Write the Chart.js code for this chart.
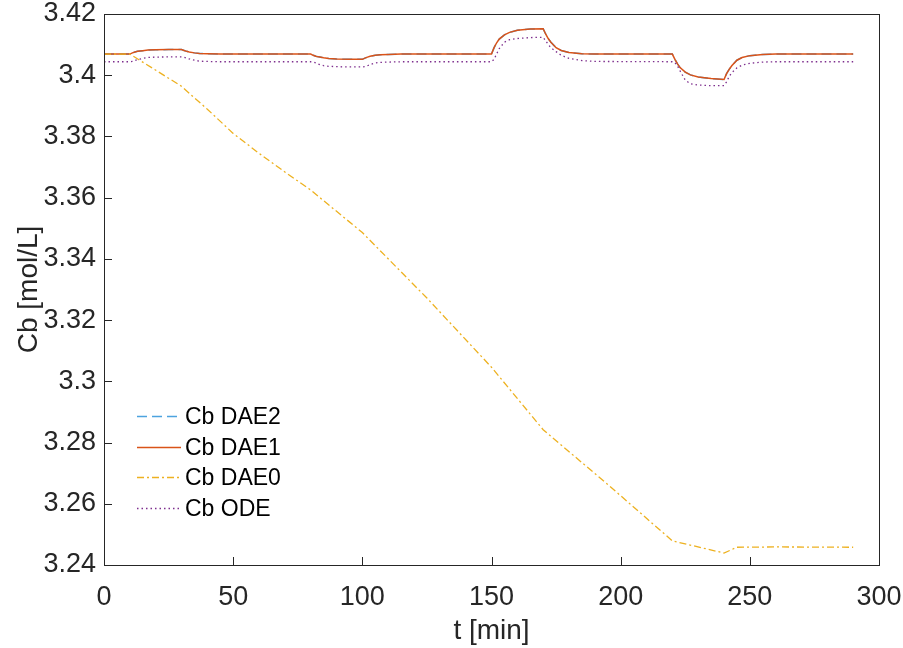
<!DOCTYPE html>
<html>
<head>
<meta charset="utf-8">
<script src="https://cdn.jsdelivr.net/npm/chart.js@4.4.0/dist/chart.umd.min.js"></script>
<style>
  html, body { margin: 0; padding: 0; background: #fff; }
  canvas { display: block; }
</style>
</head>
<body>
<canvas id="cbChart" width="903" height="648"></canvas>
<script>
// time grid shared by DAE2, DAE1 and ODE [min]
var tFine = [0,10,11,12,13,15,17,20,25,30,31,32,33,35,37,40,45,80,81,82,83,85,87,90,95,100,
  101,102,103,105,107,110,115,150,151,152,153,155,157,160,165,170,171,172,173,175,177,180,185,190,
  220,221,222,223,225,227,230,235,240,241,242,243,245,247,250,255,260,290];

var cbDAE2 = [3.4069,3.4069,3.4073,3.4076,3.4078,3.4080,3.4082,3.4083,3.4084,3.4084,
  3.4081,3.4078,3.4076,3.4073,3.4071,3.4070,3.4069,3.4069,
  3.4065,3.4062,3.4060,3.4057,3.4055,3.4053,3.4052,3.4052,
  3.4056,3.4059,3.4062,3.4065,3.4067,3.4068,3.4069,3.4069,
  3.4090,3.4106,3.4118,3.4132,3.4140,3.4147,3.4151,3.4152,
  3.4134,3.4119,3.4108,3.4090,3.4081,3.4074,3.4070,3.4069,3.4069,
  3.4052,3.4037,3.4025,3.4010,3.4001,3.3994,3.3989,3.3986,
  3.4005,3.4019,3.4031,3.4049,3.4058,3.4064,3.4068,3.4069,3.4069];

var cbDAE1 = [3.4069,3.4069,3.4073,3.4076,3.4078,3.4080,3.4082,3.4083,3.4084,3.4084,
  3.4081,3.4078,3.4076,3.4073,3.4071,3.4070,3.4069,3.4069,
  3.4065,3.4062,3.4060,3.4057,3.4055,3.4053,3.4052,3.4052,
  3.4056,3.4059,3.4062,3.4065,3.4067,3.4068,3.4069,3.4069,
  3.4090,3.4106,3.4118,3.4132,3.4140,3.4147,3.4151,3.4152,
  3.4134,3.4119,3.4108,3.4090,3.4081,3.4074,3.4070,3.4069,3.4069,
  3.4052,3.4037,3.4025,3.4010,3.4001,3.3994,3.3989,3.3986,
  3.4005,3.4019,3.4031,3.4049,3.4058,3.4064,3.4068,3.4069,3.4069];

var cbODE = [3.4044,3.4044,3.4045,3.4048,3.4051,3.4055,3.4058,3.4059,3.4060,3.4060,
  3.4059,3.4056,3.4053,3.4049,3.4046,3.4045,3.4044,3.4044,
  3.4043,3.4040,3.4036,3.4031,3.4029,3.4028,3.4027,3.4027,
  3.4028,3.4031,3.4035,3.4040,3.4042,3.4043,3.4044,3.4044,
  3.4052,3.4070,3.4087,3.4108,3.4116,3.4120,3.4123,3.4124,
  3.4112,3.4100,3.4090,3.4077,3.4065,3.4055,3.4048,3.4045,3.4044,
  3.4041,3.4030,3.4014,3.3984,3.3972,3.3968,3.3966,3.3966,
  3.3978,3.3996,3.4008,3.4024,3.4033,3.4039,3.4043,3.4044,3.4044];

// DAE0 has its own time points
var tDAE0 = [0,10,30,35,40,50,60,70,80,100,125,150,170,195,220,240,245,260,290];
var cbDAE0 = [3.4069,3.4069,3.3964,3.3926,3.3889,3.3810,3.3745,3.3684,3.3625,3.3486,
  3.3272,3.3046,3.2842,3.2663,3.2479,3.2439,3.2458,3.2459,3.2458];

var seriesNames = ['Cb DAE2', 'Cb DAE1', 'Cb DAE0', 'Cb ODE'];
var xTicks = [0, 50, 100, 150, 200, 250, 300];
var yTicks = [3.24, 3.26, 3.28, 3.3, 3.32, 3.34, 3.36, 3.38, 3.4, 3.42];

function pairs(ts, vs) {
  return ts.map(function (t, i) { return { x: t, y: vs[i] }; });
}

var axisColor = '#262626';
var tickFont = { family: 'Liberation Sans, Arial, sans-serif', size: 27, lineHeight: 1 };
var titleFont = { family: 'Liberation Sans, Arial, sans-serif', size: 28, lineHeight: 1.2 };

// inward ticks, box and an in-axes legend like MATLAB
var matlabAxes = {
  id: 'matlabAxes',
  afterDraw: function (chart) {
    var ctx = chart.ctx, a = chart.chartArea;
    var xs = chart.scales.x, ys = chart.scales.y;
    ctx.save();
    ctx.strokeStyle = axisColor;
    ctx.lineWidth = 1;
    ctx.beginPath();
    xTicks.forEach(function (v) {
      var px = Math.round(xs.getPixelForValue(v)) + 0.5;
      ctx.moveTo(px, a.bottom); ctx.lineTo(px, a.bottom - 8);
    });
    yTicks.forEach(function (v) {
      var py = Math.round(ys.getPixelForValue(v)) + 0.5;
      ctx.moveTo(a.left, py); ctx.lineTo(a.left + 8, py);
    });
    ctx.stroke();
    ctx.strokeRect(Math.round(a.left) + 0.5, Math.round(a.top) + 0.5,
      Math.round(a.right - a.left), Math.round(a.bottom - a.top));

    // legend
    var x0 = a.left + 33, y0 = a.bottom - 149, step = 30.7;
    ctx.font = '23px "Liberation Sans", Arial, sans-serif';
    ctx.textBaseline = 'middle';
    chart.data.datasets.forEach(function (ds, i) {
      var y = Math.round(y0 + i * step) + 0.5;
      ctx.strokeStyle = ds.borderColor;
      ctx.lineWidth = ds.borderWidth;
      ctx.setLineDash(ds.borderDash || []);
      ctx.beginPath();
      ctx.moveTo(x0, y); ctx.lineTo(x0 + 44, y);
      ctx.stroke();
      ctx.setLineDash([]);
      ctx.fillStyle = '#000';
      ctx.fillText(ds.label, x0 + 48, y + 1);
    });
    ctx.restore();
  }
};

new Chart(document.getElementById('cbChart'), {
  type: 'line',
  data: {
    datasets: [
      { label: seriesNames[0], data: pairs(tFine, cbDAE2), borderColor: '#4DA3DF',
        borderWidth: 1.5, borderDash: [10, 5], order: 3 },
      { label: seriesNames[1], data: pairs(tFine, cbDAE1), borderColor: '#D95319',
        borderWidth: 1.5, order: 2 },
      { label: seriesNames[2], data: pairs(tDAE0, cbDAE0), borderColor: '#EDB120',
        borderWidth: 1.3, borderDash: [7, 3, 2, 3], order: 1 },
      { label: seriesNames[3], data: pairs(tFine, cbODE), borderColor: '#7E2F8E',
        borderWidth: 1.3, borderDash: [1.5, 3], order: 0 }
    ]
  },
  options: {
    responsive: false,
    animation: false,
    elements: { point: { radius: 0 }, line: { tension: 0, fill: false } },
    layout: { padding: { top: 14, right: 24, left: 12, bottom: 0 } },
    plugins: { legend: { display: false }, tooltip: { enabled: false } },
    scales: {
      x: {
        type: 'linear', min: 0, max: 300,
        afterBuildTicks: function (s) { s.ticks = xTicks.map(function (v) { return { value: v }; }); },
        afterFit: function (s) { s.height = 83; s.paddingLeft = 0; s.paddingRight = 0; },
        grid: { display: false, drawTicks: false },
        border: { display: false },
        ticks: { font: tickFont, color: axisColor, padding: 19, maxRotation: 0 },
        title: { display: true, text: 't [min]', font: titleFont, color: axisColor, padding: 0 }
      },
      y: {
        type: 'linear', min: 3.24, max: 3.42,
        afterBuildTicks: function (s) { s.ticks = yTicks.map(function (v) { return { value: v }; }); },
        afterFit: function (s) { s.width = 92; s.paddingTop = 0; s.paddingBottom = 0; },
        grid: { display: false, drawTicks: false },
        border: { display: false },
        ticks: {
          font: tickFont, color: axisColor, padding: 8,
          callback: function (v) { return String(Number(v.toFixed(2))); }
        },
        title: { display: true, text: 'Cb [mol/L]', font: titleFont, color: axisColor, padding: 0 }
      }
    }
  },
  plugins: [matlabAxes]
});
</script>
</body>
</html>
